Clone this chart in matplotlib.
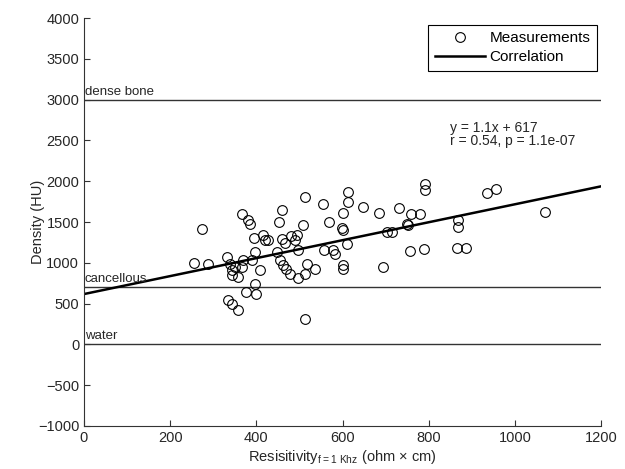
import numpy as np
import matplotlib
matplotlib.use("Agg")
import matplotlib.pyplot as plt

plt.rcParams["font.family"] = ["Liberation Sans", "DejaVu Sans"]

resistivity = [273, 256, 287, 331, 339, 343, 343, 358, 350, 366, 370, 335, 343, 358,
               366, 381, 385, 395, 416, 420, 428, 397, 389, 409, 397, 377, 399,
               459, 453, 459, 447, 455, 463, 470, 478, 497, 513, 509, 494, 490, 497,
               513, 517, 554, 613, 613, 647, 602, 685, 730, 760, 780, 791, 791,
               569, 598, 602, 704, 714, 749, 753, 611, 557, 579, 583, 757, 789,
               536, 513, 600, 600, 695, 935, 956, 869, 869, 1070, 866, 887, 480, 467]
density = [1418, 996, 989, 1070, 989, 907, 846, 825, 947, 947, 1029, 539, 499, 421,
           1601, 1520, 1479, 1303, 1336, 1274, 1283, 1131, 1029, 907, 744, 642, 621,
           1650, 1499, 1295, 1131, 1029, 968, 927, 858, 817, 1805, 1458, 1336, 1274, 1152,
           315, 989, 1716, 1867, 1744, 1683, 1609, 1609, 1671, 1601, 1593, 1969, 1887,
           1499, 1430, 1405, 1377, 1377, 1479, 1458, 1225, 1152, 1152, 1103, 1143, 1172,
           919, 866, 968, 927, 947, 1854, 1899, 1520, 1438, 1621, 1185, 1185, 1330, 1240]

slope = 1.1
intercept = 617
ref_levels = [3000, 700, 0]
ref_names = ["dense bone", "cancellous", "water"]

fig = plt.figure(figsize=(6.25, 4.69), dpi=100)
ax = fig.add_axes([0.1344, 0.0917, 0.8272, 0.8699])

grey = "#262626"
for level, name in zip(ref_levels, ref_names):
    ax.plot([0, 1200], [level, level], color="#333333", lw=1.0)
    ax.text(2, level + 25, name, fontsize=9.5, color=grey, ha="left", va="bottom")

ax.plot(resistivity, density, "o", mfc="none", mec="black", ms=7, mew=0.8,
        label="Measurements")
xs = np.array([0, 1200])
ax.plot(xs, slope * xs + intercept, color="black", lw=1.8, label="Correlation")

ax.text(850, 2570, "y = 1.1x + 617\nr = 0.54, p = 1.1e-07", fontsize=10,
        color=grey, ha="left", va="center", linespacing=0.95)

ax.set_xlim(0, 1200)
ax.set_ylim(-1000, 4000)
ax.set_xticks(range(0, 1201, 200))
ax.set_yticks(range(-1000, 4001, 500))
ax.spines["top"].set_visible(False)
ax.spines["right"].set_visible(False)
for s in ("left", "bottom"):
    ax.spines[s].set_color("#333333")
ax.tick_params(direction="in", length=4, colors="#333333", labelcolor=grey,
               labelsize=10.5)
ax.set_xlabel(r"Resisitivity$_{\mathregular{f=1\ Khz}}$ (ohm × cm)", fontsize=10.5,
              color=grey, labelpad=2)
ax.set_ylabel("Density (HU)", fontsize=10.5, color=grey, labelpad=-5)

leg = ax.legend(loc="upper right", bbox_to_anchor=(0.993, 0.984), fontsize=11,
                fancybox=False, framealpha=1, edgecolor="black",
                borderpad=0.45, handlelength=3.3, handletextpad=0.3,
                labelspacing=0.3, borderaxespad=0)
leg.get_frame().set_linewidth(0.8)

fig.savefig("out.png", dpi=100)
